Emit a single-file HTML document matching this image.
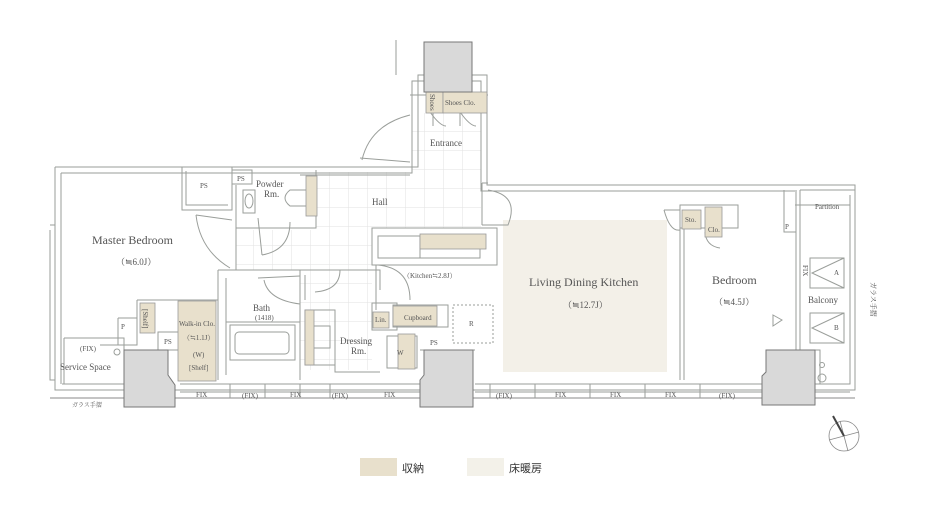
<!DOCTYPE html>
<html><head><meta charset="utf-8"><style>
html,body{margin:0;padding:0;background:#fff;}
svg{display:block;}
text{font-family:"Liberation Serif","Noto Serif CJK SC",serif;fill:#555;}
.s{font-size:7px;}
.m{font-size:9px;}
.l{font-size:12px;}
</style></head><body>
<svg width="928" height="516" viewBox="0 0 928 516" xmlns="http://www.w3.org/2000/svg">
<defs>
<pattern id="tile" x="235" y="170" width="19" height="19" patternUnits="userSpaceOnUse">
<path d="M19 0V19H0" fill="none" stroke="#e2e2e2" stroke-width="1"/>
</pattern>
</defs>
<!-- floor heating LDK -->
<rect x="503" y="220" width="164" height="152" fill="#f3f0e8"/>
<!-- tiles -->
<rect x="236" y="172" width="245" height="98" fill="url(#tile)"/>
<rect x="300" y="270" width="72" height="100" fill="url(#tile)"/>
<rect x="412" y="113" width="69" height="62" fill="url(#tile)"/>
<!-- cover parts not tiled -->
<rect x="372" y="228" width="125" height="42" fill="#fff"/>
<rect x="236" y="170" width="80" height="60" fill="#fff"/>

<g fill="none" stroke="#9a9e9a" stroke-width="1">
<path d="M55 167H418V75H487V185H800"/>
<path d="M61 173H412V81H481V191H795"/>
<path d="M396 40V75"/>
<path d="M55 167V390H855V190H800"/>
<path d="M61 173V384"/>
<path d="M850 195V384H820"/>
<path d="M855 190V185H800"/>
<path d="M62 384H124M180 384H420M475 384H762M815 384H850"/>
<path d="M50 398H855" stroke="#888"/>
<path d="M50 225H55M50 230V380H55"/>
<path d="M182 167V210H232V167M186 171V205H228"/>
<rect x="232" y="170" width="20" height="14"/>
<path d="M236 185V232M236 228H316V170"/>
<rect x="243" y="190" width="12" height="23"/>
<ellipse cx="249" cy="201" rx="4" ry="7"/>
<path d="M306 190H290Q280 198 290 206H306"/>
<path d="M236 228V270M196 215Q200 250 230 268M196 215L232 220"/>
<path d="M258 218L262 255M262 255Q290 250 290 222"/>
<path d="M218 270H300V380M218 270V380M226 278V375"/>
<rect x="230" y="325" width="65" height="35"/>
<rect x="235" y="332" width="54" height="22" rx="4"/>
<path d="M226 322H300"/>
<path d="M264 280Q268 300 300 304M258 278L300 276"/>
<path d="M300 270H380V290M305 275V300M340 270Q340 290 315 292"/>
<rect x="305" y="310" width="30" height="55"/>
<rect x="312" y="326" width="18" height="22"/>
<path d="M335 360V372H380"/>
<path d="M372 228H497V265H372Z"/>
<path d="M378 236H420V258H378Z"/>
<path d="M420 244H480V258H420Z"/>
<path d="M376 265V310M378 265Q410 268 410 300"/>
<path d="M410 95H488M410 175H300"/>
<path d="M362 160Q370 125 410 115M360 158L410 162"/>
<path d="M482 183V225M482 183H488M488 190Q520 195 508 225L482 225"/>
<path d="M433 112V126M460 112V126M430 112Q440 126 446 126M460 112Q470 126 476 126"/>
<rect x="372" y="303" width="25" height="27"/>
<rect x="393" y="305" width="55" height="22"/>
<rect x="453" y="305" width="40" height="38" stroke-dasharray="2,2"/>
<rect x="387" y="336" width="30" height="32"/>
<path d="M420 350H475"/>
<path d="M137 300H218V380M137 300V345H100M118 318H137M118 318V345"/>
<rect x="158" y="332" width="22" height="18"/>
<path d="M64 338H124V384M64 338V384"/>
<circle cx="117" cy="352" r="3"/>
<path d="M680 228V380M684 228V380M680 228H738V205H680Z"/>
<path d="M664 210Q670 232 680 230M664 210H680"/>
<path d="M705 232Q706 246 720 248"/>
<path d="M784 190V232H796V190M796 190V350"/>
<path d="M800 190V350M796 350H820V384"/>
<path d="M795 205H850"/>
<rect x="810" y="258" width="34" height="30"/>
<rect x="810" y="313" width="34" height="30"/>
<path d="M844 258L812 273L844 288M844 313L812 328L844 343"/>
<path d="M773 315L782 320L773 326Z"/>
<circle cx="822" cy="365" r="2.5"/>
<circle cx="822" cy="378" r="4"/>
<path d="M180 392H420M475 392H762M815 392H850"/>
<path d="M230 384V398M265 384V398M300 384V398M330 384V398M420 384V398M490 384V398M535 384V398M590 384V398M645 384V398M700 384V398"/>
</g>
<g fill="#e8e0cc" stroke="#999" stroke-width="0.8">
<rect x="426" y="92" width="17" height="21"/>
<rect x="443" y="92" width="44" height="21"/>
<rect x="306" y="176" width="11" height="40"/>
<rect x="420" y="234" width="66" height="15"/>
<rect x="373" y="312" width="16" height="16"/>
<rect x="393" y="306" width="44" height="20"/>
<rect x="398" y="334" width="17" height="35"/>
<rect x="305" y="310" width="9" height="55"/>
<rect x="140" y="303" width="15" height="30"/>
<rect x="178" y="301" width="38" height="80"/>
<rect x="682" y="210" width="19" height="19"/>
<rect x="705" y="207" width="17" height="30"/>
</g>
<g fill="#d9d9d9" stroke="#777" stroke-width="1">
<rect x="424" y="42" width="48" height="50"/>
<path d="M124 350H168V375L175 385V407H124Z"/>
<path d="M424 350H473V407H420V380L424 375Z"/>
<path d="M766 350H815V405H762V376L766 372Z"/>
</g>
<text class="l" x="92" y="244">Master Bedroom</text>
<text class="m" x="116" y="265">（≒6.0J）</text>
<text class="s" x="200" y="188">PS</text>
<text class="s" x="237" y="181">PS</text>
<text class="m" x="256" y="187">Powder</text>
<text class="m" x="264" y="197">Rm.</text>
<text class="m" x="372" y="205">Hall</text>
<text class="m" x="430" y="146">Entrance</text>
<text class="s" x="445" y="105">Shoes Clo.</text>
<text class="s" x="0" y="0" transform="translate(430,94) rotate(90)">Shoes</text>
<text class="s" x="403" y="278">（Kitchen≒2.8J）</text>
<text class="l" x="529" y="286">Living Dining Kitchen</text>
<text class="m" x="563" y="308">（≒12.7J）</text>
<text class="l" x="712" y="284">Bedroom</text>
<text class="m" x="714" y="305">（≒4.5J）</text>
<text class="m" x="808" y="303">Balcony</text>
<text class="s" x="834" y="275">A</text>
<text class="s" x="834" y="330">B</text>
<text class="s" x="815" y="209">Partition</text>
<text class="s" x="785" y="229">P</text>
<text class="s" x="685" y="222">Sto.</text>
<text class="s" x="708" y="232">Clo.</text>
<text class="s" x="0" y="0" transform="translate(803,265) rotate(90)">FIX</text>
<text class="s" x="0" y="0" transform="translate(871,282) rotate(90)">ガラス手摺</text>
<text class="m" x="253" y="311">Bath</text>
<text class="s" x="255" y="320">(1418)</text>
<text class="m" x="340" y="344">Dressing</text>
<text class="m" x="351" y="354">Rm.</text>
<text class="s" x="375" y="322">Lin.</text>
<text class="s" x="404" y="320">Cupboard</text>
<text class="s" x="469" y="326">R</text>
<text class="s" x="397" y="355">W</text>
<text class="s" x="430" y="345">PS</text>
<text class="s" x="179" y="326">Walk-in Clo.</text>
<text class="s" x="183" y="340">（≒1.1J）</text>
<text class="s" x="193" y="357">(W)</text>
<text class="s" x="189" y="370">[Shelf]</text>
<text class="s" x="0" y="0" transform="translate(143,309) rotate(90)">[Shelf]</text>
<text class="s" x="121" y="329">P</text>
<text class="s" x="164" y="344">PS</text>
<text class="s" x="80" y="351">(FIX)</text>
<text class="m" x="60" y="370">Service Space</text>
<text class="s" x="196" y="397">FIX</text>
<text class="s" x="242" y="398">(FIX)</text>
<text class="s" x="290" y="397">FIX</text>
<text class="s" x="332" y="398">(FIX)</text>
<text class="s" x="384" y="397">FIX</text>
<text class="s" x="496" y="398">(FIX)</text>
<text class="s" x="555" y="397">FIX</text>
<text class="s" x="610" y="397">FIX</text>
<text class="s" x="665" y="397">FIX</text>
<text class="s" x="719" y="398">(FIX)</text>
<text class="s" x="72" y="407" style="font-size:6px">ガラス手摺</text>
<g fill="none" stroke="#888" stroke-width="0.8">
<circle cx="844" cy="436" r="15"/>
<path d="M829 440L859 432M840 421L848 451"/>
<path d="M833 416L844 436" stroke="#444" stroke-width="2"/>
</g>
<rect x="360" y="458" width="37" height="18" fill="#e8e0cc"/>
<text x="402" y="472" style="font-family:'Noto Sans CJK JP',sans-serif;font-size:11px;fill:#333">収納</text>
<rect x="467" y="458" width="37" height="18" fill="#f3f1e9"/>
<text x="509" y="472" style="font-family:'Noto Sans CJK JP',sans-serif;font-size:11px;fill:#333">床暖房</text>
</svg>
</body></html>
